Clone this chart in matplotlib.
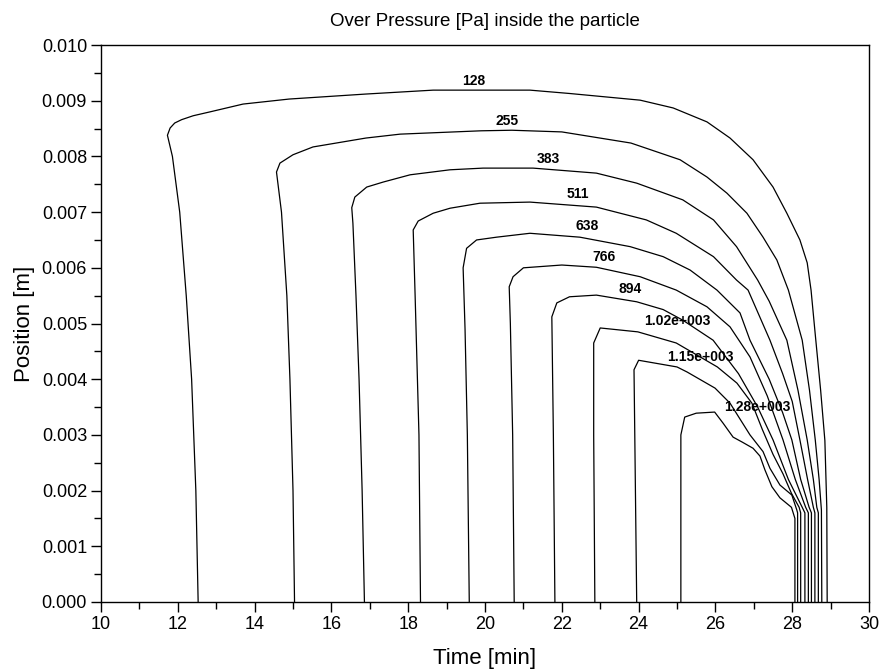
import matplotlib
matplotlib.use('Agg')
import matplotlib.pyplot as plt
from matplotlib.ticker import MultipleLocator, FormatStrFormatter

plt.rcParams['font.family'] = ['Liberation Sans', 'DejaVu Sans']

# contour levels [Pa] and the text shown on each line
LEVELS = [128, 255, 383, 511, 638, 766, 894, 1020, 1150, 1280]
LEVEL_TEXT = ['128', '255', '383', '511', '638', '766', '894',
              '1.02e+003', '1.15e+003', '1.28e+003']

# where each label sits (time [min], position [m])
LABEL_T = [19.71, 20.57, 21.64, 22.42, 22.65, 23.10, 23.78, 25.00, 25.60, 27.08]
LABEL_P = [0.00935, 0.00864, 0.00795, 0.00732, 0.00675, 0.00619, 0.00562,
           0.00505, 0.00440, 0.00350]

# iso-lines: time [min] / position [m]
c128_t = [12.53, 12.47, 12.36, 12.22, 12.05, 11.86, 11.73, 11.80, 11.92, 12.10,
          12.40, 12.84, 13.70, 14.90, 16.90, 18.65, 21.17, 22.20, 24.04, 24.90,
          25.78, 26.38, 26.98, 27.50, 27.86, 28.20, 28.39, 28.49, 28.60, 28.74,
          28.85, 28.90, 28.91]
c128_p = [0.0, 0.0020, 0.0040, 0.0055, 0.0070, 0.0080, 0.00838, 0.00851, 0.00860,
          0.00866, 0.00873, 0.00880, 0.00894, 0.00903, 0.00912, 0.00919, 0.00919,
          0.00913, 0.00901, 0.00887, 0.00862, 0.00833, 0.00794, 0.00745, 0.00698,
          0.00650, 0.00609, 0.00560, 0.00480, 0.00380, 0.00290, 0.00170, 0.0]

c255_t = [15.04, 15.00, 14.92, 14.84, 14.70, 14.57, 14.66, 15.00, 15.52, 16.90,
          17.79, 19.90, 20.70, 22.00, 23.80, 25.08, 25.78, 26.30, 26.82, 27.24,
          27.60, 27.90, 28.26, 28.45, 28.60, 28.70, 28.76, 28.77]
c255_p = [0.0, 0.0020, 0.0040, 0.0055, 0.0070, 0.00772, 0.00788, 0.00803, 0.00817,
          0.00833, 0.00840, 0.00846, 0.00847, 0.00844, 0.00824, 0.00794, 0.00763,
          0.00734, 0.00698, 0.00655, 0.00614, 0.00560, 0.00470, 0.00380, 0.00291,
          0.00220, 0.00165, 0.0]

c383_t = [16.86, 16.80, 16.72, 16.64, 16.56, 16.53, 16.61, 16.92, 17.35, 18.05,
          19.09, 19.95, 21.25, 22.90, 23.95, 25.15, 25.95, 26.55, 27.10, 27.40,
          27.86, 28.15, 28.39, 28.55, 28.64, 28.68, 28.68]
c383_p = [0.0, 0.0020, 0.0040, 0.0055, 0.0068, 0.00708, 0.00727, 0.00745, 0.00754,
          0.00767, 0.00776, 0.00779, 0.00779, 0.00770, 0.00752, 0.00722, 0.00686,
          0.00638, 0.00578, 0.00540, 0.00470, 0.00380, 0.00291, 0.00220, 0.00170,
          0.00160, 0.0]

c511_t = [18.32, 18.28, 18.22, 18.18, 18.13, 18.26, 18.65, 19.09, 19.87, 21.17,
          22.90, 24.20, 24.98, 25.95, 26.55, 26.85, 27.42, 27.75, 28.00, 28.20,
          28.40, 28.55, 28.59, 28.59]
c511_p = [0.0, 0.0030, 0.0045, 0.0055, 0.00668, 0.00684, 0.00698, 0.00707, 0.00716,
          0.00718, 0.00709, 0.00686, 0.00662, 0.00620, 0.00578, 0.00560, 0.00470,
          0.00410, 0.00360, 0.00291, 0.00220, 0.00170, 0.00160, 0.0]

c638_t = [19.59, 19.54, 19.48, 19.43, 19.52, 19.78, 20.30, 21.17, 22.47, 23.78,
          24.64, 25.34, 26.04, 26.64, 26.90, 27.40, 27.75, 27.99, 28.22, 28.44,
          28.50, 28.50]
c638_p = [0.0, 0.0030, 0.0049, 0.0060, 0.00635, 0.00650, 0.00655, 0.00662, 0.00655,
          0.00638, 0.00620, 0.00596, 0.00560, 0.00519, 0.00470, 0.00400, 0.00340,
          0.00291, 0.00220, 0.00170, 0.00160, 0.0]

c766_t = [20.76, 20.72, 20.66, 20.63, 20.73, 21.00, 22.00, 22.90, 24.04, 24.98,
          25.78, 26.38, 26.90, 27.35, 27.76, 28.08, 28.35, 28.42, 28.42]
c766_p = [0.0, 0.0030, 0.0050, 0.00566, 0.00584, 0.00600, 0.00605, 0.00601, 0.00584,
          0.00560, 0.00530, 0.00494, 0.00440, 0.00370, 0.00291, 0.00220, 0.00170,
          0.00160, 0.0]

c894_t = [21.82, 21.78, 21.74, 21.87, 22.20, 22.90, 23.95, 24.64, 25.15, 25.94,
          26.60, 27.10, 27.50, 27.90, 28.26, 28.33, 28.33]
c894_p = [0.0, 0.0030, 0.00512, 0.00537, 0.00548, 0.00551, 0.00539, 0.00525,
          0.00506, 0.00470, 0.00410, 0.00350, 0.00291, 0.00220, 0.00170, 0.00160, 0.0]

c1020_t = [22.86, 22.83, 22.83, 23.00, 23.98, 24.98, 26.05, 26.56, 26.95, 27.22,
           27.50, 27.76, 27.98, 28.18, 28.22, 28.22]
c1020_p = [0.0, 0.0030, 0.00465, 0.00492, 0.00485, 0.00465, 0.00422, 0.00393,
           0.00357, 0.00310, 0.00265, 0.00230, 0.00195, 0.00170, 0.00160, 0.0]

c1150_t = [23.95, 23.90, 23.88, 24.00, 25.00, 25.26, 25.99, 26.38, 26.90, 27.24,
           27.42, 27.68, 27.99, 28.12, 28.14, 28.14]
c1150_p = [0.0, 0.0030, 0.00417, 0.00434, 0.00422, 0.00413, 0.00384, 0.00357,
           0.00300, 0.00270, 0.00240, 0.00210, 0.00192, 0.00165, 0.00160, 0.0]

c1280_t = [25.10, 25.10, 25.20, 25.50, 25.98, 26.20, 26.46, 26.70, 26.98, 27.16,
           27.29, 27.47, 27.68, 27.98, 28.07, 28.07]
c1280_p = [0.0, 0.0030, 0.00332, 0.00339, 0.00341, 0.00321, 0.00296, 0.00287,
           0.00276, 0.00262, 0.00237, 0.00207, 0.00187, 0.00170, 0.00150, 0.0]

CURVES_T = [c128_t, c255_t, c383_t, c511_t, c638_t, c766_t, c894_t,
            c1020_t, c1150_t, c1280_t]
CURVES_P = [c128_p, c255_p, c383_p, c511_p, c638_p, c766_p, c894_p,
            c1020_p, c1150_p, c1280_p]


fig = plt.figure(figsize=(8.82, 6.70), dpi=100)
ax = fig.add_axes([0.1145, 0.1015, 0.8708, 0.8313])

for t, p in zip(CURVES_T, CURVES_P):
    ax.plot(t, p, color='black', linewidth=0.9, solid_joinstyle='round')

for txt, lt, lp in zip(LEVEL_TEXT, LABEL_T, LABEL_P):
    ax.text(lt, lp, txt, ha='center', va='center', fontsize=10,
            fontweight='bold', color='black')

ax.set_xlim(10, 30)
ax.set_ylim(0, 0.010)
ax.xaxis.set_major_locator(MultipleLocator(2))
ax.xaxis.set_minor_locator(MultipleLocator(1))
ax.yaxis.set_major_locator(MultipleLocator(0.001))
ax.yaxis.set_minor_locator(MultipleLocator(0.0005))
ax.yaxis.set_major_formatter(FormatStrFormatter('%.3f'))
ax.tick_params(which='both', direction='out', top=False, right=False,
               labelsize=13, width=1)
ax.tick_params(which='major', length=7, pad=3)
ax.tick_params(which='minor', length=5)
for s in ax.spines.values():
    s.set_linewidth(1.0)

ax.set_xlabel('Time [min]', fontsize=16, labelpad=11)
ax.set_ylabel('Position [m]', fontsize=16, labelpad=5)
ax.set_title('Over Pressure [Pa] inside the particle', fontsize=13.5, pad=14)

plt.savefig('out.png', dpi=100)
